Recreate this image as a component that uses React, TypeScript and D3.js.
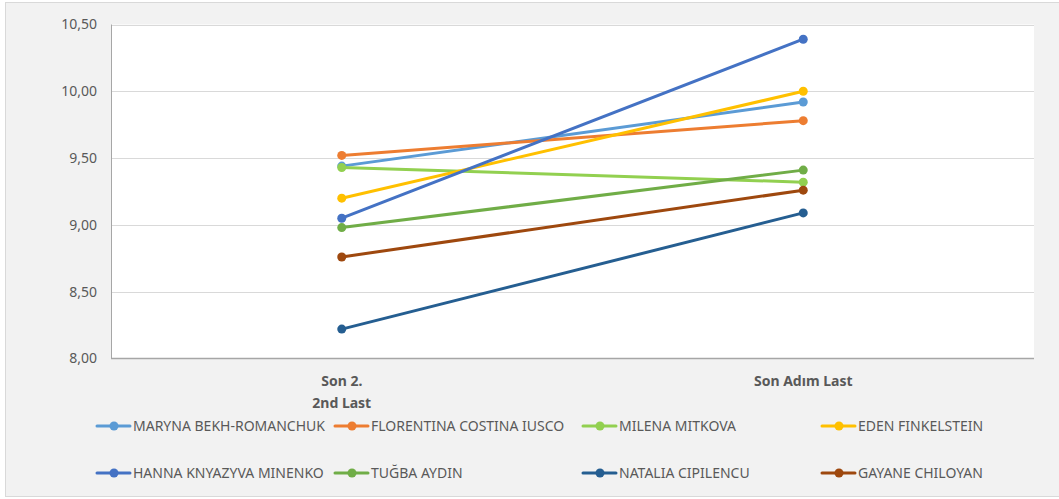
import React from "react";
import * as d3 from "d3";

// Categories on the x axis (each label may span two lines)
const categories: string[][] = [["Son 2.", "2nd Last"], ["Son Adım Last"]];

// Athletes, in legend order
const athletes: string[] = [
  "MARYNA BEKH-ROMANCHUK",
  "FLORENTINA COSTINA IUSCO",
  "MILENA MITKOVA",
  "EDEN FINKELSTEIN",
  "HANNA KNYAZYVA MINENKO",
  "TUĞBA AYDIN",
  "NATALIA CIPILENCU",
  "GAYANE CHILOYAN",
];

// Jump distances for the second-to-last and last attempts
const secondLast: number[] = [9.44, 9.52, 9.43, 9.2, 9.05, 8.98, 8.22, 8.76];
const last: number[] = [9.92, 9.78, 9.32, 10.0, 10.39, 9.41, 9.09, 9.26];

const seriesColors: string[] = [
  "#5B9BD5",
  "#ED7D31",
  "#92D050",
  "#FFC000",
  "#4472C4",
  "#70AD47",
  "#255E91",
  "#9E480E",
];

const yTicks: number[] = [8.0, 8.5, 9.0, 9.5, 10.0, 10.5];

const W = 1059;
const H = 499;
const plot = { left: 111, right: 1034, top: 24.5, bottom: 358.5 };
const FONT = "'Noto Sans', 'Open Sans', sans-serif";
const TEXT = "#595959";

export default function App() {
  const x = d3
    .scaleBand<number>()
    .domain(categories.map((_, i) => i))
    .range([plot.left, plot.right]);
  const y = d3.scaleLinear().domain([8, 10.5]).range([plot.bottom, plot.top]);
  const cx = (i: number) => (x(i) as number) + x.bandwidth() / 2;
  const fmt = (v: number) => d3.format(".2f")(v).replace(".", ",");
  const line = d3
    .line<number>()
    .x((_, i) => cx(i))
    .y((v) => y(v));

  const series = athletes.map((name, i) => ({
    name,
    color: seriesColors[i],
    values: [secondLast[i], last[i]],
  }));

  const legendCols = [97, 335, 583, 822];
  const legendRows = [426, 473];

  return (
    <div style={{ position: "absolute", left: 0, top: 0 }}>
      <svg width={W} height={H} style={{ display: "block" }} fontFamily={FONT}>
        <rect x={5.5} y={2.5} width={W + 10} height={494} fill="#F2F2F2" stroke="#D9D9D9" strokeWidth={1} />
        <rect
          x={plot.left}
          y={plot.top}
          width={plot.right - plot.left}
          height={plot.bottom - plot.top}
          fill="#FFFFFF"
        />
        {yTicks.map((t) => (
          <g key={t}>
            {t > 8 && (
              <line
                x1={plot.left}
                x2={plot.right}
                y1={Math.round(y(t)) + 0.5}
                y2={Math.round(y(t)) + 0.5}
                stroke="#D9D9D9"
                strokeWidth={1}
              />
            )}
            <text
              x={97}
              y={y(t)}
              dy="0.35em"
              textAnchor="end"
              fontSize={14}
              fill={TEXT}
            >
              {fmt(t)}
            </text>
          </g>
        ))}
        <line x1={plot.left + 0.5} x2={plot.left + 0.5} y1={plot.top} y2={plot.bottom} stroke="#A6A6A6" strokeWidth={1} />
        <line x1={plot.left} x2={plot.right} y1={plot.bottom} y2={plot.bottom} stroke="#A6A6A6" strokeWidth={1.5} />
        {categories.map((lines, i) =>
          lines.map((l, j) => (
            <text
              key={`${i}-${j}`}
              x={cx(i)}
              y={381 + j * 22}
              dy="0.35em"
              textAnchor="middle"
              fontSize={14}
              fontWeight="bold"
              fill={TEXT}
            >
              {l}
            </text>
          ))
        )}
        {series.map((s) => (
          <g key={s.name}>
            <path d={line(s.values) as string} fill="none" stroke={s.color} strokeWidth={3} strokeLinecap="round" />
            {s.values.map((v, i) => (
              <circle key={i} cx={cx(i)} cy={y(v)} r={4.5} fill={s.color} />
            ))}
          </g>
        ))}
        {series.map((s, i) => {
          const lx = legendCols[i % 4];
          const ly = legendRows[Math.floor(i / 4)];
          return (
            <g key={`lg-${s.name}`}>
              <line x1={lx} x2={lx + 33} y1={ly} y2={ly} stroke={s.color} strokeWidth={3} strokeLinecap="round" />
              <circle cx={lx + 17} cy={ly} r={4.5} fill={s.color} />
              <text x={lx + 36} y={ly} dy="0.35em" fontSize={14} fill={TEXT}>
                {s.name}
              </text>
            </g>
          );
        })}
      </svg>
    </div>
  );
}
